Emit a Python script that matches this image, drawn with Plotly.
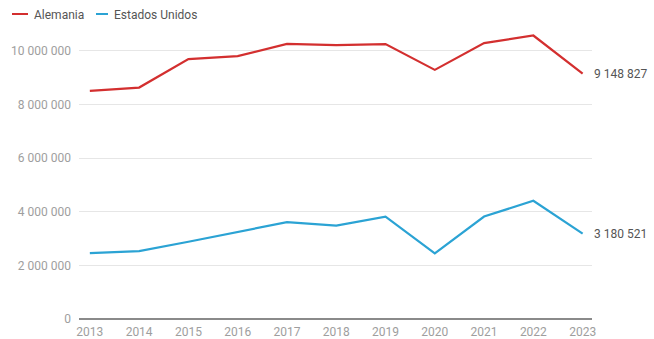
import plotly.graph_objects as go

# Data
years = [2013, 2014, 2015, 2016, 2017, 2018, 2019, 2020, 2021, 2022, 2023]
alemania = [8505000, 8630000, 9690000, 9800000, 10260000, 10210000, 10250000,
            9290000, 10290000, 10570000, 9148827]
estados_unidos = [2460000, 2530000, 2880000, 3240000, 3610000, 3480000, 3820000,
                  2450000, 3820000, 4410000, 3180521]
y_ticks = [0, 2000000, 4000000, 6000000, 8000000, 10000000]

RED = "#d32f2f"
BLUE = "#2ba3d4"
FONT = "Roboto"

W, H = 654, 339
ML, MR, MT, MB = 79, 62, 24, 20
PW = W - ML - MR
PH = H - MT - MB


def px_x(p):
    """Pixel x -> paper coordinate."""
    return (p - ML) / PW


def px_y(p):
    """Pixel y (from top) -> paper coordinate."""
    return (H - MB - p) / PH


def fmt(v):
    return f"{v:,}".replace(",", " ")


fig = go.Figure()
fig.add_trace(go.Scatter(x=years, y=alemania, mode="lines", name="Alemania",
                         line=dict(color=RED, width=2.2), hoverinfo="x+y"))
fig.add_trace(go.Scatter(x=years, y=estados_unidos, mode="lines", name="Estados Unidos",
                         line=dict(color=BLUE, width=2.2), hoverinfo="x+y"))

# Value labels at the end of each line
for series in (alemania, estados_unidos):
    fig.add_annotation(x=years[-1], y=series[-1], xref="x", yref="y",
                       text=fmt(series[-1]), showarrow=False,
                       xanchor="left", yanchor="middle", xshift=9,
                       font=dict(family=FONT, size=12, color="#555555"))

# Legend drawn at top-left
legend_items = [("Alemania", RED, 12, 28, 32), ("Estados Unidos", BLUE, 96, 108, 112)]
for label, color, x0, x1, tx in legend_items:
    fig.add_shape(type="line", xref="paper", yref="paper",
                  x0=px_x(x0), x1=px_x(x1), y0=px_y(14), y1=px_y(14),
                  line=dict(color=color, width=2))
    fig.add_annotation(xref="paper", yref="paper", x=px_x(tx), y=px_y(15),
                       text=label, showarrow=False, xanchor="left", yanchor="middle",
                       font=dict(family=FONT, size=12, color="#555555"))

fig.update_layout(
    width=W, height=H,
    margin=dict(l=ML, r=MR, t=MT, b=MB, pad=0, autoexpand=False),
    paper_bgcolor="white", plot_bgcolor="white",
    showlegend=False,
    separators=", ",
    font=dict(family=FONT, size=12, color="#9e9e9e"),
    xaxis=dict(range=[2012.78, 2023.19], tickvals=years, ticktext=[str(y) for y in years],
               showgrid=False, zeroline=False, showline=False, ticks="",
               automargin=False, ticklabelstandoff=4,
               tickfont=dict(family=FONT, size=12, color="#9e9e9e"),
               fixedrange=True),
    yaxis=dict(range=[0, 11000000], tickvals=y_ticks, ticktext=[fmt(v) for v in y_ticks],
               showgrid=True, gridcolor="#e6e6e6", gridwidth=1,
               zeroline=True, zerolinecolor="#8a8a8a", zerolinewidth=2,
               showline=False, ticks="", ticklabelstandoff=7,
               automargin=False,
               tickfont=dict(family=FONT, size=12, color="#9e9e9e"),
               fixedrange=True),
)

fig.write_html("out.html")
